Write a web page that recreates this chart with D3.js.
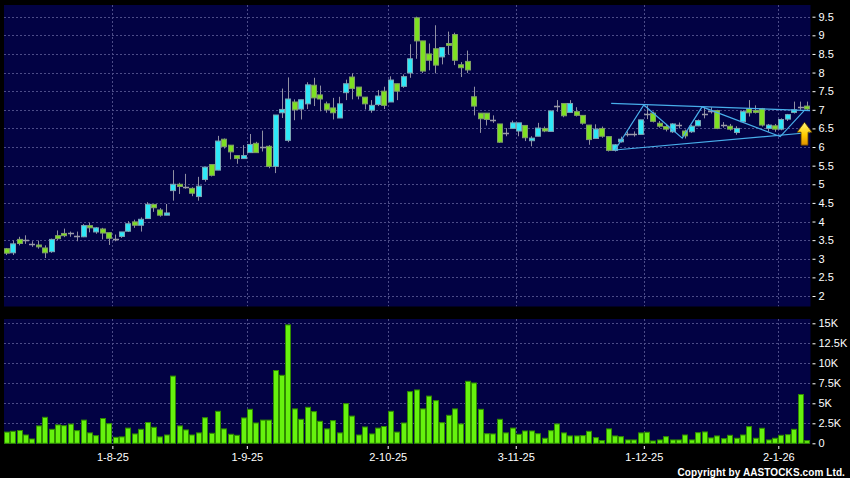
<!DOCTYPE html>
<html><head><meta charset="utf-8">
<script src="https://cdn.jsdelivr.net/npm/d3@7"></script>
<style>html,body{margin:0;padding:0;background:#000;} svg{display:block;}</style>
</head><body>
<svg id="chart" width="850" height="478"></svg>
<script>
// ---------------- DATA ----------------
const openP = [3.27,3.16,3.52,3.51,3.39,3.37,3.29,3.19,3.62,3.68,3.69,3.61,3.59,3.89,3.72,3.80,3.70,3.53,3.60,3.74,
  3.99,3.90,4.08,4.46,4.31,4.17,4.83,5.00,4.92,4.89,4.67,5.13,5.53,5.38,6.21,6.05,5.77,5.69,5.85,6.10,
  6.01,6.02,5.48,6.92,6.18,7.21,7.02,7.16,7.66,7.40,7.16,7.05,6.78,7.46,7.88,7.61,7.34,6.99,7.14,7.50,
  7.21,7.70,7.63,7.99,9.47,8.85,8.50,8.64,8.42,8.78,9.02,8.21,8.30,7.35,6.91,6.91,6.73,6.62,6.37,6.50,
  6.43,6.58,6.17,6.29,6.50,6.42,7.10,7.17,6.93,6.95,6.85,6.59,6.23,6.50,6.28,5.91,6.14,6.34,6.34,6.34,
  6.88,6.91,6.64,6.55,6.41,6.59,6.43,6.41,6.57,6.89,6.98,6.98,6.58,6.56,6.39,6.68,7.03,6.98,7.03,6.50,
  6.57,6.48,6.75,6.93,7.08,7.10];
const highP = [3.29,3.49,3.59,3.63,3.47,3.49,3.36,3.54,3.76,3.81,3.73,3.73,3.93,3.97,3.85,3.83,3.70,3.65,3.72,4.01,
  4.05,4.11,4.52,4.46,4.36,4.47,5.38,5.04,5.28,4.92,5.20,5.46,5.53,6.30,6.23,6.05,5.77,6.05,6.35,6.14,
  6.44,6.05,6.86,7.57,7.87,7.28,7.27,7.74,7.86,7.65,7.22,7.32,7.35,7.81,7.98,7.61,7.34,7.26,7.53,7.62,
  7.90,7.70,7.95,8.76,9.50,8.85,8.78,9.27,8.67,9.10,9.07,8.28,8.59,7.62,6.91,6.91,6.85,6.62,6.51,6.71,
  6.65,6.58,6.29,6.65,6.55,6.98,7.26,7.17,7.26,7.07,6.85,6.59,6.61,6.55,6.28,6.08,6.28,6.42,6.42,6.73,
  7.12,6.95,6.70,6.62,6.64,6.66,6.47,6.59,6.74,7.05,7.07,7.00,6.67,6.62,6.56,6.99,7.26,7.12,7.05,6.62,
  6.62,6.77,6.89,7.22,7.22,7.22];
const lowP = [3.10,3.10,3.36,3.40,3.32,3.27,3.02,3.16,3.50,3.58,3.59,3.47,3.58,3.71,3.67,3.52,3.37,3.47,3.56,3.72,
  3.83,3.73,4.08,4.26,4.13,4.17,4.56,4.74,4.88,4.68,4.56,5.07,5.21,5.38,5.96,5.67,5.55,5.69,5.85,5.85,
  5.88,5.43,5.30,6.78,6.13,6.72,6.74,7.02,7.10,6.96,6.92,6.74,6.78,7.26,7.28,7.28,7.01,6.92,7.10,7.02,
  7.21,7.26,7.59,7.86,8.37,7.99,8.06,7.98,8.22,8.49,8.20,7.88,7.99,6.85,6.38,6.58,6.65,6.11,6.29,6.50,
  6.29,6.16,6.02,6.29,6.40,6.42,6.95,6.80,6.93,6.82,6.60,6.06,6.23,6.25,5.88,5.88,6.12,6.28,6.28,6.34,
  6.75,6.66,6.52,6.42,6.38,6.50,6.23,6.38,6.56,6.77,6.90,6.48,6.52,6.44,6.33,6.65,6.82,6.90,6.55,6.41,
  6.41,6.45,6.70,6.90,7.00,6.98];
const closeP = [3.15,3.40,3.41,3.51,3.39,3.32,3.16,3.52,3.54,3.62,3.69,3.61,3.89,3.83,3.83,3.69,3.55,3.53,3.72,3.94,
  3.90,4.06,4.46,4.37,4.17,4.23,5.00,4.94,4.92,4.76,4.95,5.46,5.24,6.16,6.01,5.87,5.69,5.77,6.07,5.85,
  6.01,5.48,6.86,7.01,7.29,7.00,7.27,7.67,7.32,7.29,7.00,6.92,7.16,7.70,7.57,7.37,7.16,7.12,7.37,7.12,
  7.80,7.50,7.89,8.37,8.85,8.04,8.33,8.20,8.67,8.73,8.33,8.13,8.07,7.10,6.76,6.74,6.73,6.13,6.37,6.65,
  6.65,6.25,6.24,6.51,6.43,6.97,7.10,6.84,7.17,6.85,6.64,6.20,6.48,6.29,5.91,6.06,6.21,6.34,6.34,6.73,
  6.88,6.69,6.56,6.48,6.62,6.59,6.30,6.56,6.71,6.89,6.98,6.50,6.58,6.48,6.50,6.95,6.92,6.93,6.59,6.59,
  6.48,6.74,6.87,7.00,7.08,7.02];
const volumeK = [1.4,1.5,1.6,1.04,0.54,2.17,3.25,1.75,2.3,2.2,2.4,1.58,2.9,1.3,0.96,3.1,2.45,0.75,0.8,1.9,
  1.17,1.75,2.6,2.0,0.8,1.04,8.4,2.17,1.67,1.04,1.3,3.2,1.25,4.0,1.8,1.13,1.0,3.17,4.25,2.54,
  2.9,2.9,9.1,8.5,14.8,4.3,3.0,4.5,3.96,2.75,1.8,2.83,1.3,4.96,3.4,1.04,2.04,1.17,1.9,2.1,
  4.0,1.4,2.54,6.46,6.67,4.3,5.9,5.33,2.58,3.5,4.3,2.42,7.75,7.54,4.25,1.2,1.17,3.0,1.3,1.9,
  1.13,1.54,1.54,1.2,0.63,1.58,2.42,1.3,0.92,0.92,0.96,1.5,0.71,0.33,1.8,0.92,0.83,0.42,0.42,1.3,
  1.38,0.29,0.42,0.83,0.42,0.42,1.04,0.42,1.33,1.42,0.67,0.92,0.58,1.0,0.63,1.04,2.08,0.63,1.88,0.42,
  0.63,1.0,1.08,1.75,6.1,0.33];

const priceTicks = [2,2.5,3,3.5,4,4.5,5,5.5,6,6.5,7,7.5,8,8.5,9,9.5];
const volumeTicks = [0,2500,5000,7500,10000,12500,15000];
const volumeTickLabels = ["0","2.5K","5K","7.5K","10K","12.5K","15K"];
const dateTickIndex = [17,38,60,80,100,121];
const dateTickLabels = ["1-8-25","1-9-25","2-10-25","3-11-25","1-12-25","2-1-26"];

// pattern annotation (bar index, price)
const upperLine = [[94.4,7.17],[125.46,6.98]];
const lowerLine = [[95.0,5.92],[125.46,6.39]];
const zigzag = [[95.0,5.92],[99.5,7.13],[105.5,6.24],[108.6,7.08],[120.8,6.28],[124.5,6.97]];
const arrowAnchor = [124.6, 6.05];

// ---------------- LAYOUT ----------------
const N = openP.length;
const svg = d3.select("#chart");
const plotL = 4, plotR = 810.5;
const pTop = 5, pBot = 306.5;
const vTop = 319, vBot = 444;

const x = d3.scaleBand().domain(d3.range(N)).range([3.5, 810.3]).paddingInner(0.12).paddingOuter(0.06);
const xEdge = d3.scaleLinear().domain([0, N]).range([3.5, 810.3]);
const xc = i => xEdge(i + 0.5);
const yP = d3.scaleLinear().domain([2, 9.5]).range([296, 16.7]);
const yV = d3.scaleLinear().domain([0, 15000]).range([443.3, 323.3]);

svg.append("rect").attr("width",850).attr("height",478).attr("fill","#000");
svg.append("rect").attr("x",plotL).attr("y",pTop).attr("width",plotR-plotL).attr("height",pBot-pTop).attr("fill","#020244");
svg.append("rect").attr("x",plotL).attr("y",vTop).attr("width",plotR-plotL).attr("height",vBot-vTop).attr("fill","#020244");

const defs = svg.append("defs");
defs.append("clipPath").attr("id","clipP").append("rect").attr("x",plotL).attr("y",pTop).attr("width",plotR-plotL).attr("height",pBot-pTop);
defs.append("clipPath").attr("id","clipV").append("rect").attr("x",plotL).attr("y",vTop).attr("width",plotR-plotL).attr("height",vBot-vTop);
const grad = defs.append("linearGradient").attr("id","arrowGrad").attr("x1",0).attr("y1",0).attr("x2",0).attr("y2",1);
grad.append("stop").attr("offset","0%").attr("stop-color","#fff27a");
grad.append("stop").attr("offset","55%").attr("stop-color","#ffcc00");
grad.append("stop").attr("offset","100%").attr("stop-color","#e09000");

const gridColor = "#4c4c88";
const snap = v => Math.round(v) + 0.5;

// price grid
const gP = svg.append("g").attr("clip-path","url(#clipP)");
gP.selectAll("line.h").data(priceTicks).join("line")
  .attr("x1",plotL).attr("x2",plotR).attr("y1",d=>snap(yP(d))).attr("y2",d=>snap(yP(d)))
  .attr("stroke",gridColor).attr("stroke-dasharray","2,2");
gP.selectAll("line.v").data(dateTickIndex).join("line")
  .attr("x1",d=>snap(xEdge(d))).attr("x2",d=>snap(xEdge(d))).attr("y1",pTop).attr("y2",pBot)
  .attr("stroke",gridColor).attr("stroke-dasharray","2,2");

// volume grid
const gV = svg.append("g").attr("clip-path","url(#clipV)");
gV.selectAll("line.h").data(volumeTicks.slice(1)).join("line")
  .attr("x1",plotL).attr("x2",plotR).attr("y1",d=>snap(yV(d))).attr("y2",d=>snap(yV(d)))
  .attr("stroke",gridColor).attr("stroke-dasharray","2,2");
gV.selectAll("line.v").data(dateTickIndex).join("line")
  .attr("x1",d=>snap(xEdge(d))).attr("x2",d=>snap(xEdge(d))).attr("y1",vTop).attr("y2",vBot)
  .attr("stroke",gridColor).attr("stroke-dasharray","2,2");

// candles
const candles = d3.range(N).map(i => ({i, o:openP[i], h:highP[i], l:lowP[i], c:closeP[i]}));
const bw = Math.round(x.bandwidth());
const gC = gP.append("g");
gC.selectAll("line.wick").data(candles).join("line")
  .attr("x1",d=>snap(xc(d.i)-0.5)).attr("x2",d=>snap(xc(d.i)-0.5))
  .attr("y1",d=>yP(d.h)).attr("y2",d=>yP(d.l))
  .attr("stroke","#9090a2").attr("stroke-width",1);
gC.selectAll("rect.body").data(candles.filter(d=>d.o!==d.c)).join("rect")
  .attr("x",d=>Math.round(xc(d.i)-bw/2)+0.5)
  .attr("y",d=>yP(Math.max(d.o,d.c)))
  .attr("width",bw-1)
  .attr("height",d=>Math.max(1, Math.abs(yP(d.o)-yP(d.c))))
  .attr("fill",d=>d.c>d.o ? "#2ee8f8" : "#7ee022")
  .attr("stroke",d=>d.c>d.o ? "#7aa6b4" : "#7f9f66").attr("stroke-width",1);
gC.selectAll("line.doji").data(candles.filter(d=>d.o===d.c)).join("line")
  .attr("x1",d=>Math.round(xc(d.i)-bw/2)).attr("x2",d=>Math.round(xc(d.i)-bw/2)+bw)
  .attr("y1",d=>snap(yP(d.o))).attr("y2",d=>snap(yP(d.o)))
  .attr("stroke","#9a9aa8").attr("stroke-width",1.5);

// pattern lines
const lineGen = d3.line().x(d=>xc(d[0])).y(d=>yP(d[1]));
const gA = gP.append("g").attr("fill","none").attr("stroke","#48aeea").attr("stroke-width",1.2);
[upperLine, lowerLine, zigzag].forEach(pts => gA.append("path").attr("d", lineGen(pts)));

// arrow
const ax = xc(arrowAnchor[0]), ay = yP(arrowAnchor[1]);
svg.append("path")
  .attr("d", `M${ax},${ay-23} L${ax+7.5},${ay-13} L${ax+3.5},${ay-13} L${ax+3.5},${ay} L${ax-3.5},${ay} L${ax-3.5},${ay-13} L${ax-7.5},${ay-13} Z`)
  .attr("fill","url(#arrowGrad)").attr("stroke","#5a3a00").attr("stroke-width",0.8);

// volume bars
gV.selectAll("rect.vol").data(d3.range(N)).join("rect")
  .attr("x",i=>Math.round(xc(i)-bw/2)+0.5)
  .attr("y",i=>yV(volumeK[i]*1000))
  .attr("width",bw-1)
  .attr("height",i=>yV(0)-yV(volumeK[i]*1000))
  .attr("fill","#66f20e").attr("stroke","#2f8a00").attr("stroke-width",1);

// axes
const font = "'Liberation Sans', Arial, sans-serif";
const styleAxis = g => {
  g.select(".domain").remove();
  g.selectAll(".tick line").attr("stroke","#ffffff");
  g.selectAll(".tick text").attr("fill","#ffffff").style("font-family",font).style("font-size","11px");
};
svg.append("g").attr("transform",`translate(${plotR+2},0)`)
  .call(d3.axisRight(yP).tickValues(priceTicks).tickSize(3).tickPadding(3).tickFormat(d3.format("")))
  .call(styleAxis);
svg.append("g").attr("transform",`translate(${plotR+2},0)`)
  .call(d3.axisRight(yV).tickValues(volumeTicks).tickSize(3).tickPadding(3).tickFormat((d,k)=>volumeTickLabels[k]))
  .call(styleAxis);
svg.append("g").attr("transform",`translate(0,${vBot+2})`)
  .call(d3.axisBottom(xEdge).tickValues(dateTickIndex).tickSize(3).tickPadding(4).tickFormat((d,k)=>dateTickLabels[k]))
  .call(styleAxis);

svg.append("text").attr("x",845).attr("y",476).attr("text-anchor","end")
  .attr("fill","#ffffff").style("font-family",font).style("font-size","10px").style("font-weight","bold")
  .style("letter-spacing","0.1px")
  .text("Copyright by AASTOCKS.com Ltd.");
</script>
</body></html>
